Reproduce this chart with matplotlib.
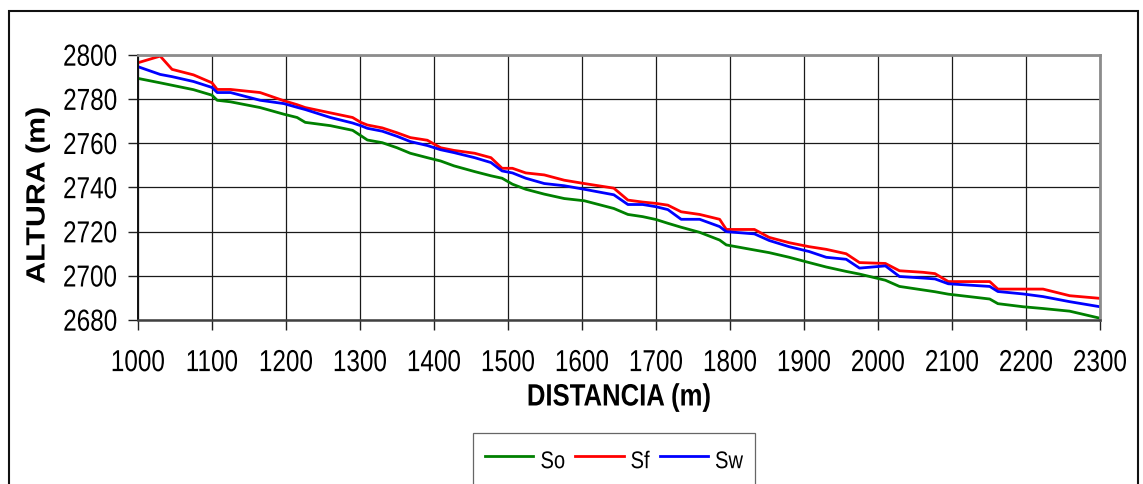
import matplotlib
matplotlib.use("Agg")
import matplotlib.pyplot as plt
from matplotlib.patches import Rectangle
from matplotlib.patheffects import AbstractPathEffect
from matplotlib.transforms import Affine2D

# Cross-section chainage (m)
distancia = [1000, 1030, 1046, 1075, 1100, 1107, 1125, 1165, 1197, 1215, 1226,
             1260, 1290, 1301, 1310, 1330, 1350, 1368, 1391, 1409, 1427, 1455,
             1477, 1492, 1506, 1524, 1549, 1576, 1603, 1643, 1662, 1682, 1700,
             1716, 1734, 1759, 1786, 1795, 1833, 1853, 1880, 1907, 1930, 1957,
             1975, 2010, 2029, 2061, 2077, 2095, 2151, 2162, 2196, 2223, 2259,
             2300]

# Channel bed elevation (m)
so = [2789.4, 2787.4, 2786.3, 2784.3, 2781.8, 2779.5, 2778.8, 2776.2, 2773.2,
      2771.7, 2769.5, 2768.0, 2765.9, 2763.5, 2761.5, 2760.3, 2758.0, 2755.5,
      2753.5, 2752.0, 2749.8, 2747.2, 2745.3, 2744.2, 2741.5, 2739.2, 2737.0,
      2735.0, 2734.0, 2730.5, 2727.8, 2726.8, 2725.5, 2723.8, 2722.0, 2719.7,
      2716.2, 2714.0, 2711.7, 2710.5, 2708.4, 2706.0, 2704.0, 2702.0, 2700.8,
      2698.0, 2695.2, 2693.6, 2692.8, 2691.7, 2689.5, 2687.4, 2686.0, 2685.2,
      2684.0, 2680.8]

# Energy line elevation (m)
sf = [2796.5, 2799.5, 2793.5, 2791.0, 2787.4, 2784.4, 2784.4, 2783.0, 2779.3,
      2777.5, 2776.2, 2773.8, 2771.7, 2769.5, 2768.3, 2767.0, 2764.8, 2762.6,
      2761.4, 2758.0, 2756.8, 2755.5, 2753.5, 2748.7, 2748.7, 2746.6, 2745.7,
      2743.3, 2741.8, 2739.7, 2734.3, 2733.4, 2732.8, 2732.0, 2729.0, 2727.8,
      2725.6, 2721.0, 2721.0, 2717.4, 2715.0, 2713.2, 2712.0, 2710.0, 2706.0,
      2705.6, 2702.3, 2701.6, 2701.0, 2697.4, 2697.4, 2694.0, 2694.0, 2694.0,
      2691.0, 2689.8]

# Water surface elevation (m)
sw = [2794.7, 2791.2, 2790.2, 2788.0, 2785.3, 2783.0, 2783.0, 2779.5, 2778.0,
      2776.3, 2775.3, 2771.7, 2769.2, 2768.0, 2766.8, 2765.5, 2763.2, 2760.8,
      2759.0, 2757.1, 2755.8, 2753.5, 2751.3, 2747.5, 2746.6, 2744.2, 2741.8,
      2740.8, 2739.2, 2736.7, 2732.3, 2732.3, 2731.3, 2730.0, 2725.6, 2725.6,
      2722.3, 2720.0, 2719.0, 2716.0, 2713.2, 2711.0, 2708.4, 2707.5, 2703.5,
      2704.5, 2699.7, 2699.0, 2698.6, 2696.4, 2695.2, 2692.9, 2691.8, 2690.6,
      2688.3, 2686.0]

x_ticks = list(range(1000, 2301, 100))
y_ticks = list(range(2680, 2801, 20))


class Stretch(AbstractPathEffect):
    """Scale glyph outlines (narrow, tall lettering)."""

    def __init__(self, sx=1.0, sy=1.0, cy=35.8):
        super().__init__()
        self.sx, self.sy, self.cy = sx, sy, cy

    def draw_path(self, renderer, gc, tpath, affine, rgbFace=None):
        ext = tpath.get_extents()
        cx = 0.5 * (ext.x0 + ext.x1)
        pre = (Affine2D().translate(-cx, -self.cy)
               .scale(self.sx, self.sy).translate(cx, self.cy))
        renderer.draw_path(gc, tpath, pre + affine, rgbFace)


plt.rcParams["font.family"] = ["Liberation Sans", "DejaVu Sans"]

W, H = 1143, 484
fig = plt.figure(figsize=(W / 100, H / 100), dpi=100)
fig.patch.set_facecolor("white")

left, right, top, bottom = 138, 1100, 55, 320
ax = fig.add_axes([left / W, 1 - bottom / H, (right - left) / W, (bottom - top) / H])

ax.plot(distancia, so, color="#008000", lw=2.0, label="So")
ax.plot(distancia, sf, color="#ff0000", lw=2.0, label="Sf")
ax.plot(distancia, sw, color="#0000ff", lw=2.0, label="Sw")

ax.set_xlim(1000, 2300)
ax.set_ylim(2680, 2800)
ax.set_xticks(x_ticks)
ax.set_yticks(y_ticks)
ax.grid(True, color="#1a1a1a", lw=0.9)
ax.set_axisbelow(True)

ax.tick_params(axis="both", direction="out", length=7, width=1.0,
               color="#202020", labelsize=17.5)
ax.tick_params(axis="x", pad=16)
ax.tick_params(axis="y", pad=8)

ax.spines["left"].set_color("#101010")
ax.spines["left"].set_linewidth(1.4)
ax.spines["bottom"].set_color("#404040")
ax.spines["bottom"].set_linewidth(1.8)
for s in ("top", "right"):
    ax.spines[s].set_color("#8c8c8c")
    ax.spines[s].set_linewidth(2.0)

tall = [Stretch(1.0, 1.25)]
for lbl in ax.get_xticklabels() + ax.get_yticklabels():
    lbl.set_path_effects(tall)

ax.set_xlabel("DISTANCIA (m)", fontsize=18.5, fontweight="bold",
              path_effects=[Stretch(1.0, 1.2)])
ax.xaxis.set_label_coords(0.5, -0.244)
ax.set_ylabel("ALTURA (m)", fontsize=19, fontweight="bold",
              path_effects=[Stretch(1.15, 1.0)])
ax.yaxis.set_label_coords(-0.092, 0.47)

leg = fig.legend(loc="upper center", bbox_to_anchor=(614 / W, 1 - 432.7 / H),
                 ncol=3, fontsize=14.5, frameon=True, fancybox=False,
                 handlelength=2.4, handletextpad=0.35, columnspacing=0.5,
                 borderpad=0.6, handleheight=2.0, borderaxespad=0)
leg.get_frame().set_edgecolor("#404040")
leg.get_frame().set_linewidth(0.9)
for t in leg.get_texts():
    t.set_path_effects([Stretch(1.0, 1.2)])

# Chart-area border, open past the lower edge of the image
fig.add_artist(Rectangle((9 / W, -0.2), (1138 - 9) / W, 1.2 - 11 / H,
                         transform=fig.transFigure, fill=False,
                         ec="#111111", lw=1.5, clip_on=False))

fig.savefig("out.png", dpi=100)
